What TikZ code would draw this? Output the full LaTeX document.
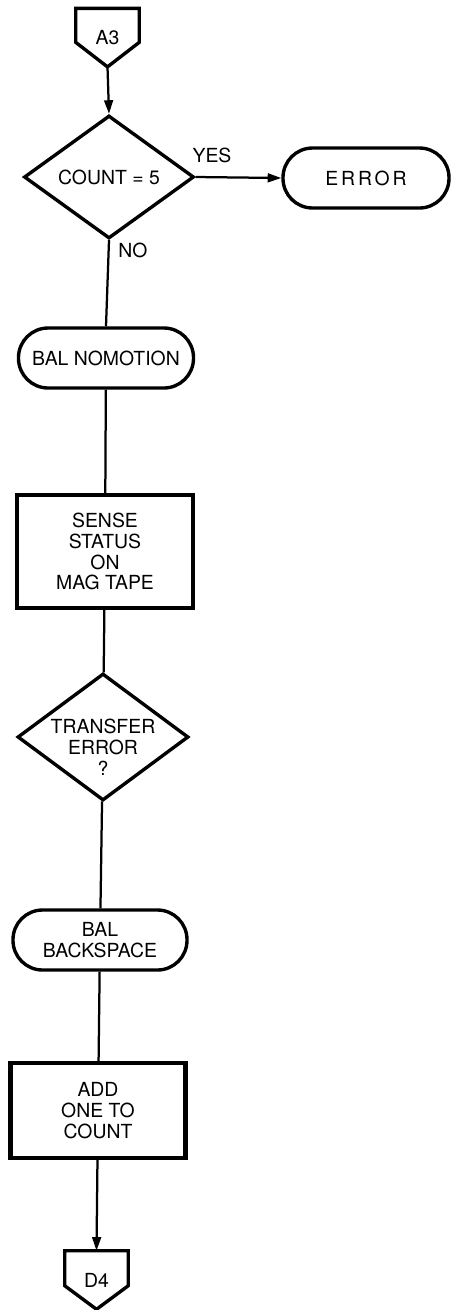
\documentclass[tikz,border=0pt]{standalone}
\usepackage{fontspec}
\setmainfont{TeX Gyre Heros}
\usetikzlibrary{arrows.meta, shapes.geometric, positioning, calc}

\begin{document}
\begin{tikzpicture}[
        font=\fontsize{13.8}{14.8}\selectfont,
        procbox/.style={draw, line width=3pt, inner sep=0pt, align=center},
        term/.style={draw, line width=2.4pt, rounded corners=0.74cm, inner sep=0pt,
                     minimum height=1.5cm, align=center},
        decide/.style={draw, diamond, line width=2.4pt, inner sep=0pt, align=center},
        offpage/.style={inner sep=0pt, minimum width=1.575cm, minimum height=1.45cm},
        flow/.style={line width=1.6pt},
        arr/.style={flow, -{Triangle[length=3.4mm, width=2.2mm]}}
      ]
        \useasboundingbox (0,0) rectangle (11.275,-32.75);
        % off-page connectors
        \node[offpage] (A3) at (2.6875,-0.94) {A3};
        \draw[line width=2.4pt] (A3.north west) -- (A3.north east) -- ([yshift=-0.85cm]A3.north east)
            -- (A3.south) -- ([yshift=-0.85cm]A3.north west) -- cycle;
        \node[offpage] (D4) at (2.4125,-32.0) {D4};
        \draw[line width=2.4pt] (D4.north west) -- (D4.north east) -- ([yshift=-0.875cm]D4.north east)
            -- (D4.south) -- ([yshift=-0.875cm]D4.north west) -- cycle;
        % flow chart
        \node[decide, minimum width=4.25cm, minimum height=3.075cm] (count) at (2.725,-4.425) {COUNT = 5};
        \node[term, minimum width=4.15cm] (error) at (9.15,-4.45)
            {\addfontfeature{LetterSpace=15}ERROR};
        \node[term, minimum width=4.375cm] (nomo) at (2.65,-8.95) {BAL NOMOTION};
        \node[procbox, minimum width=4.4cm, minimum height=2.825cm] (sense) at (2.625,-13.79)
            {SENSE\\STATUS\\ON\\MAG TAPE};
        \node[decide, minimum width=4.275cm, minimum height=3.175cm] (xfer) at (2.575,-18.425) {};
        \node[align=center] (xfertxt) at ([yshift=-0.25cm]xfer.center) {TRANSFER\\ERROR\\?};
        \node[term, minimum width=4.35cm] (bksp) at (2.5,-23.5) {BAL\\BACKSPACE};
        \node[procbox, minimum width=4.375cm, minimum height=2.375cm] (add) at (2.45,-27.76)
            {ADD\\ONE TO\\COUNT};
        \node (yes) at (5.3,-3.875) {YES};
        \node (no) at (3.325,-6.27) {NO};
        \draw[arr] (A3.south) -- (count.north);
        \draw[arr] (count.east) -- (error.west);
        \draw[flow] (count.south) -- (nomo.north);
        \draw[flow] (nomo) -- (sense);
        \draw[flow] (sense) -- (xfer);
        \draw[flow] (xfer) -- (bksp);
        \draw[flow] (bksp) -- (add);
        \draw[arr] (add) -- (D4.north);
      \end{tikzpicture}
\end{document}
